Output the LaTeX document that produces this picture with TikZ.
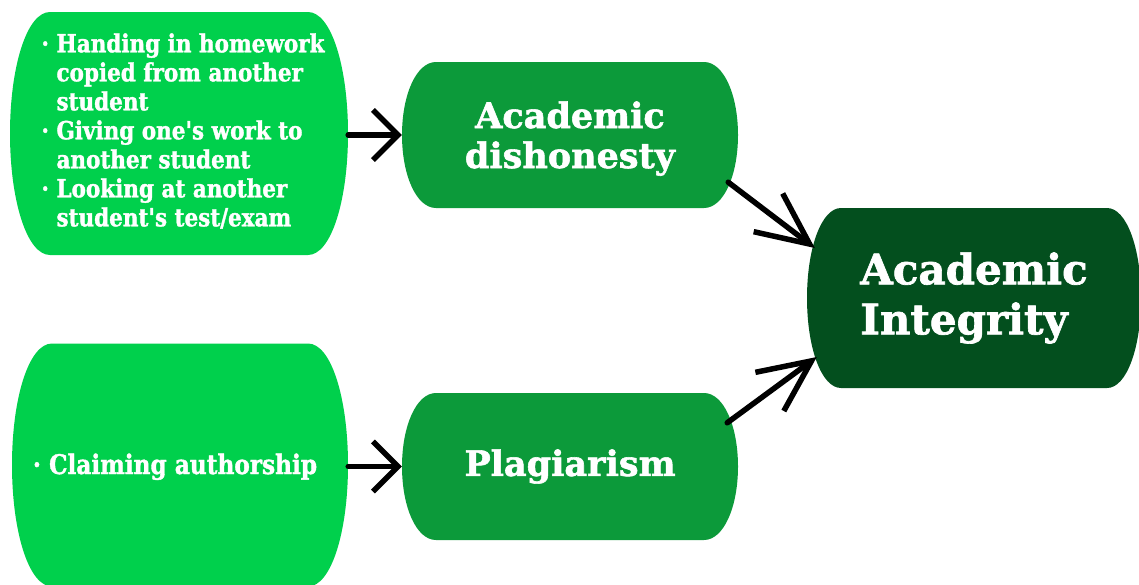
\documentclass[tikz,border=0pt]{standalone}
\usepackage{fontspec}
\setmainfont{DejaVu Serif}[BoldFeatures={FakeBold=1.6}]
\newfontfamily\slabnarrow{DejaVu Serif}[FakeStretch=0.86, BoldFeatures={FakeBold=1.4}]
\usetikzlibrary{arrows.meta,calc}
\definecolor{lightg}{HTML}{00D04C}
\definecolor{midg}{HTML}{0C9A3A}
\definecolor{darkg}{HTML}{034F1E}
\newcommand\bul{·\hspace{0.3em}}
\newcommand\ind{\hphantom{\bul}}
\tikzset{
  pill/.style 2 args={rectangle, inner sep=0pt, text=white,
    path picture={
      \fill[#1] let \p1=(path picture bounding box.south west),
                    \p2=(path picture bounding box.north east),
                    \n1={0.5*(\y1+\y2)}, \n2={0.5*(\y2-\y1)} in
        ({\x1+#2pt},\y2) -- ({\x2-#2pt},\y2)
        .. controls ({\x2-0.42*#2pt},\y2) and (\x2,{(\n1+0.55*\n2)*1pt}) .. (\x2,{\n1*1pt})
        .. controls (\x2,{(\n1-0.55*\n2)*1pt}) and ({\x2-0.42*#2pt},\y1) .. ({\x2-#2pt},\y1)
        -- ({\x1+#2pt},\y1)
        .. controls ({\x1+0.42*#2pt},\y1) and (\x1,{(\n1-0.55*\n2)*1pt}) .. (\x1,{\n1*1pt})
        .. controls (\x1,{(\n1+0.55*\n2)*1pt}) and ({\x1+0.42*#2pt},\y2) .. cycle;
    }},
  conn/.style={line width=5.5pt, line cap=round, line join=round, draw=black},
  hbarb/.style={-{Straight Barb[length=25pt,width=50pt]}},
  dbarb/.style={-{Straight Barb[length=52pt,width=48pt]}},
}
\begin{document}
\begin{tikzpicture}[x=1pt,y=-1pt]
\useasboundingbox (0,0) rectangle (1139,584);
\node[pill={lightg}{40}, minimum width=338pt, minimum height=243pt,
  font=\slabnarrow\bfseries\fontsize{25pt}{29pt}\selectfont] (L1) at (179,133.5)
  {\hspace*{8pt}\begin{tabular}{@{}l@{}}\bul Handing in homework\\ \ind copied from another\\ \ind student\\
   \bul Giving one's work to\\ \ind another student\\ \bul Looking at another\\ \ind student's test/exam\end{tabular}};
\node[pill={lightg}{40}, minimum width=336pt, minimum height=243pt,
  font=\slabnarrow\bfseries\fontsize{27pt}{31pt}\selectfont] (L2) at (180,465)
  {\raisebox{-9pt}[0pt][0pt]{\bul Claiming authorship}\hspace*{10pt}};
\node[pill={midg}{34}, minimum width=336pt, minimum height=146pt,
  font=\bfseries\fontsize{35pt}{40pt}\selectfont] (AD) at (570,135)
  {\raisebox{-33pt}[0pt][0pt]{\begin{tabular}[b]{@{}c@{}}Academic\\dishonesty\end{tabular}}\rule[-22pt]{0pt}{44pt}};
\node[pill={midg}{34}, minimum width=336pt, minimum height=147pt,
  font=\bfseries\fontsize{35pt}{40pt}\selectfont] (PL) at (570,466.5) {Plagiarism};
\node[pill={darkg}{34}, minimum width=334pt, minimum height=180pt, align=left,
  font=\bfseries\fontsize{42pt}{50pt}\selectfont] (AI) at (974,298) {Academic\\Integrity};
\coordinate (s1) at ($(AD.south east)+(-10,-26)$);
\coordinate (t1) at ($(AI.west)+(8,-50)$);
\coordinate (s2) at ($(PL.north east)+(-11,30)$);
\coordinate (t2) at ($(AI.west)+(10,59)$);
\draw[conn,hbarb] (L1.east |- AD.west) -- (AD.west);
\draw[conn,hbarb] (L2.east |- PL.west) -- (PL.west);
\draw[conn,dbarb] (s1) -- (t1);
\draw[conn,dbarb] (s2) -- (t2);
\end{tikzpicture}
\end{document}
